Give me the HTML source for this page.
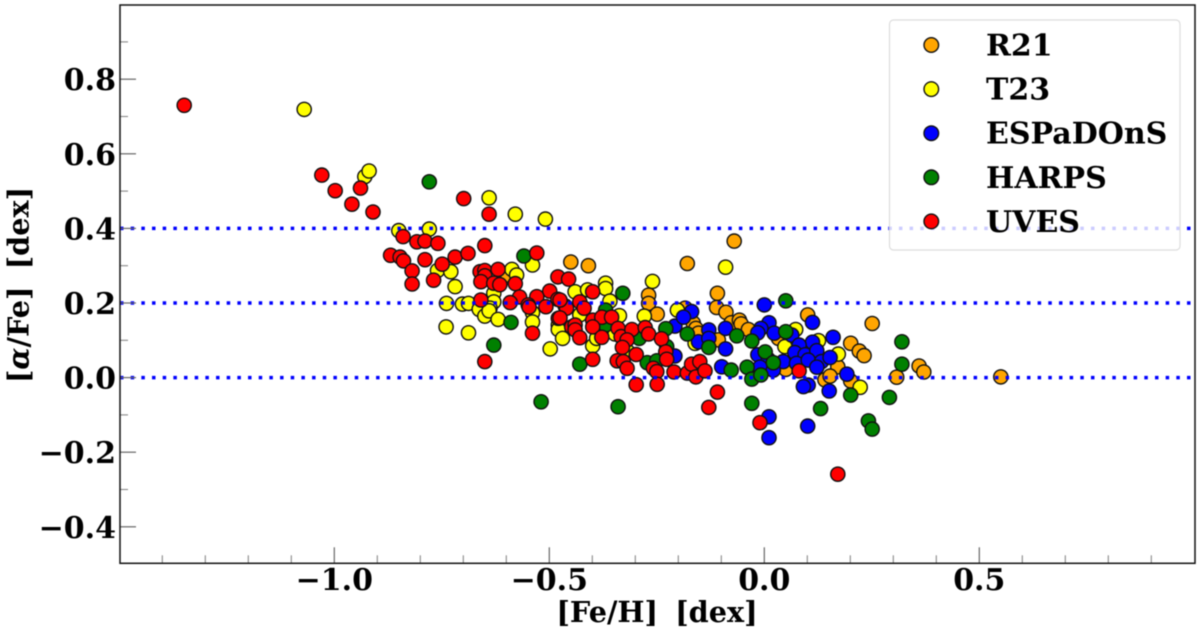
<!DOCTYPE html>
<html>
<head>
<meta charset="utf-8">
<title>[alpha/Fe] vs [Fe/H]</title>
<style>
html,body{margin:0;padding:0;background:#fff;}
svg{display:block;filter:blur(0.45px);}
text{font-family:"DejaVu Serif","Liberation Serif",serif;font-weight:bold;fill:#000;}
</style>
</head>
<body>
<svg id="chart" width="1200" height="632" viewBox="0 0 1200 632" xmlns="http://www.w3.org/2000/svg"></svg>
<script>
const xTicks = [-1.0, -0.5, 0.0, 0.5];
const xTickLabels = ["\u22121.0", "\u22120.5", "0.0", "0.5"];
const xMinorTicks = [-1.4,-1.3,-1.2,-1.1,-0.9,-0.8,-0.7,-0.6,-0.4,-0.3,-0.2,-0.1,0.1,0.2,0.3,0.4,0.6,0.7,0.8,0.9];
const yTicks = [-0.4, -0.2, 0.0, 0.2, 0.4, 0.6, 0.8];
const yTickLabels = ["\u22120.4", "\u22120.2", "0.0", "0.2", "0.4", "0.6", "0.8"];
const yMinorTicks = [-0.3,-0.1,0.1,0.3,0.5,0.7,0.9];
const refLevels = [0.0, 0.2, 0.4];

const r21X = [-0.070,-0.179,-0.450,-0.409,-0.597,-0.269,-0.269,-0.249,-0.109,-0.111,-0.089,-0.077,-0.058,-0.054,-0.037,-0.184,-0.165,-0.159,-0.153,-0.107,0.101,0.251,0.201,0.221,0.232,0.171,0.033,0.052,0.050,0.141,0.153,0.201,0.308,0.360,0.371,0.550];
const r21Y = [0.366,0.306,0.310,0.300,0.275,0.221,0.199,0.170,0.226,0.188,0.175,0.147,0.154,0.144,0.129,0.186,0.146,0.132,0.119,0.101,0.168,0.145,0.092,0.071,0.059,0.029,0.105,0.029,0.022,-0.006,0.004,-0.009,0.001,0.031,0.015,0.002];

const t23X = [-1.070,-0.929,-0.919,-0.850,-0.779,-0.640,-0.579,-0.509,-0.539,-0.760,-0.729,-0.719,-0.587,-0.576,-0.739,-0.702,-0.688,-0.629,-0.629,-0.638,-0.740,-0.688,-0.663,-0.650,-0.640,-0.619,-0.539,-0.539,-0.498,-0.479,-0.479,-0.469,-0.440,-0.411,-0.369,-0.369,-0.359,-0.337,-0.429,-0.399,-0.390,-0.347,-0.260,-0.279,-0.202,-0.161,-0.090,-0.317,0.073,0.048,0.126,0.172,0.223];
const t23Y = [0.719,0.539,0.554,0.394,0.398,0.482,0.438,0.425,0.302,0.287,0.284,0.244,0.290,0.275,0.199,0.197,0.199,0.226,0.203,0.186,0.136,0.120,0.183,0.165,0.179,0.156,0.174,0.149,0.077,0.141,0.129,0.105,0.230,0.235,0.253,0.239,0.205,0.166,0.168,0.085,0.105,0.117,0.258,0.165,0.181,0.092,0.296,0.069,0.129,0.083,0.099,0.063,-0.026];

const espadonsX = [-0.208,-0.169,-0.188,-0.208,-0.153,-0.129,-0.129,-0.090,-0.090,-0.099,0.000,0.112,0.011,-0.008,-0.015,0.023,0.064,0.160,0.112,0.081,0.071,0.095,0.122,-0.015,0.009,0.044,0.075,0.102,0.133,0.153,0.122,-0.010,0.021,0.192,0.102,0.091,0.151,0.011,0.011,0.101];
const espadonsY = [0.138,0.177,0.162,0.058,0.096,0.128,0.105,0.132,0.077,0.029,0.195,0.148,0.147,0.132,0.120,0.119,0.114,0.108,0.095,0.087,0.067,0.061,0.072,0.061,0.049,0.043,0.038,0.047,0.043,0.054,0.028,0.028,0.020,0.009,-0.020,-0.024,-0.036,-0.105,-0.161,-0.130];

const harpsX = [-0.779,-0.559,-0.589,-0.629,-0.519,-0.429,-0.340,-0.329,-0.369,-0.369,-0.291,-0.272,-0.250,-0.229,-0.179,-0.227,-0.129,-0.077,-0.064,0.050,-0.029,0.050,-0.040,-0.029,-0.008,0.002,0.021,-0.029,0.131,0.201,0.291,0.242,0.251,0.320,0.320];
const harpsY = [0.525,0.326,0.148,0.087,-0.065,0.036,-0.078,0.226,0.181,0.141,0.105,0.040,0.045,0.131,0.117,0.083,0.081,0.020,0.112,0.206,0.098,0.123,0.028,-0.004,0.007,0.069,0.040,-0.069,-0.083,-0.047,-0.053,-0.116,-0.138,0.096,0.036];

const uvesX = [-1.349,-1.029,-0.998,-0.959,-0.939,-0.910,-0.840,-0.808,-0.789,-0.759,-0.699,-0.640,-0.650,-0.529,-0.869,-0.847,-0.839,-0.789,-0.719,-0.689,-0.749,-0.819,-0.819,-0.769,-0.661,-0.650,-0.619,-0.650,-0.659,-0.629,-0.615,-0.579,-0.480,-0.455,-0.499,-0.569,-0.659,-0.529,-0.480,-0.591,-0.549,-0.547,-0.508,-0.463,-0.460,-0.479,-0.539,-0.650,-0.448,-0.399,-0.475,-0.429,-0.419,-0.475,-0.440,-0.440,-0.429,-0.399,-0.378,-0.355,-0.399,-0.378,-0.340,-0.333,-0.308,-0.319,-0.277,-0.269,-0.239,-0.330,-0.298,-0.399,-0.342,-0.328,-0.319,-0.229,-0.227,-0.258,-0.250,-0.210,-0.179,-0.169,-0.159,-0.150,-0.138,-0.298,-0.249,-0.109,-0.129,-0.010,0.081,0.171];
const uvesY = [0.730,0.543,0.501,0.465,0.508,0.444,0.378,0.364,0.366,0.360,0.480,0.438,0.354,0.334,0.328,0.323,0.313,0.316,0.323,0.333,0.304,0.286,0.251,0.261,0.284,0.287,0.290,0.273,0.257,0.253,0.249,0.252,0.270,0.264,0.232,0.216,0.208,0.217,0.210,0.201,0.195,0.189,0.190,0.192,0.186,0.159,0.119,0.043,0.136,0.230,0.208,0.203,0.186,0.160,0.141,0.128,0.107,0.154,0.162,0.162,0.136,0.108,0.132,0.110,0.129,0.101,0.134,0.117,0.104,0.081,0.062,0.049,0.045,0.043,0.025,0.069,0.049,0.025,0.016,0.015,0.012,0.036,0.002,0.043,0.018,-0.019,-0.018,-0.039,-0.080,-0.121,0.018,-0.259];

const seriesNames = ["R21", "T23", "ESPaDOnS", "HARPS", "UVES"];
const seriesColors = ["orange", "yellow", "blue", "green", "red"];
const seriesX = [r21X, t23X, espadonsX, harpsX, uvesX];
const seriesY = [r21Y, t23Y, espadonsY, harpsY, uvesY];

const NS = "http://www.w3.org/2000/svg";
const svg = document.getElementById("chart");
const plotLeft = 120, plotRight = 1195, plotTop = 5, plotBottom = 563.3;
function xScale(v) { return 764.3 + v * 430; }
function yScale(v) { return 377.6 - v * 373; }
function make(tag, attrs, parent) {
  const el = document.createElementNS(NS, tag);
  for (const k in attrs) el.setAttribute(k, attrs[k]);
  (parent || svg).appendChild(el);
  return el;
}

// plotted markers
const marksGroup = make("g", {});


seriesNames.forEach(function (name, s) {
  const g = make("g", {}, marksGroup);
  
  
  seriesX[s].forEach(function (xv, i) {
    const c = make("circle", {
      cx: xScale(xv).toFixed(1), cy: yScale(seriesY[s][i]).toFixed(1), r: 7.1,
      fill: seriesColors[s], stroke: "#111", "stroke-width": 1.4
    }, g);
    
    
  });
});

// horizontal reference lines
refLevels.forEach(function (lv) {
  const l = make("line", {
    x1: plotLeft, x2: plotRight, y1: yScale(lv), y2: yScale(lv),
    stroke: "#0000ff", "stroke-width": 3.5, "stroke-dasharray": "3.5 7.17"
  });
  
  
});

// ticks
xTicks.forEach(function (v, i) {
  const t = make("line", { x1: xScale(v), x2: xScale(v), y1: plotBottom, y2: plotBottom - 16, stroke: "#666", "stroke-width": 1.2 });
  
  
  const lb = make("text", { x: xScale(v), y: 590, "text-anchor": "middle", "font-size": 30 });
  lb.textContent = xTickLabels[i];
  
  
});
xMinorTicks.forEach(function (v) {
  const t = make("line", { x1: xScale(v), x2: xScale(v), y1: plotBottom, y2: plotBottom - 8, stroke: "#888", "stroke-width": 1.1 });
  
  
});
yTicks.forEach(function (v, i) {
  const t = make("line", { x1: plotLeft, x2: plotLeft + 16, y1: yScale(v), y2: yScale(v), stroke: "#666", "stroke-width": 1.2 });
  
  
  const lb = make("text", { x: 116, y: yScale(v) + 11, "text-anchor": "end", "font-size": 30 });
  lb.textContent = yTickLabels[i];
  
  
});
yMinorTicks.forEach(function (v) {
  const t = make("line", { x1: plotLeft, x2: plotLeft + 8, y1: yScale(v), y2: yScale(v), stroke: "#888", "stroke-width": 1.1 });
  
  
});

// plot frame
const frame = make("rect", {
  x: plotLeft, y: plotTop, width: plotRight - plotLeft, height: plotBottom - plotTop,
  fill: "none", stroke: "#111", "stroke-width": 1.5
});



// axis titles
const xTitle = make("text", { x: 657, y: 622, "text-anchor": "middle", "font-size": 28.7, "word-spacing": 7 });
xTitle.textContent = "[Fe/H] [dex]";



const yTitle = make("text", { x: 0, y: 0, "text-anchor": "middle", "font-size": 28.7, "word-spacing": 7, transform: "translate(28.5 285) rotate(-90)" });


yTitle.appendChild(document.createTextNode("["));
const alpha = make("tspan", { "font-style": "italic" }, yTitle);
alpha.textContent = "\u03b1";
yTitle.appendChild(document.createTextNode("/Fe] [dex]"));

// legend
const legend = make("g", {});


const legendBox = make("rect", {
  x: 889.5, y: 20, width: 290.5, height: 230, rx: 4, ry: 4,
  fill: "#fff", "fill-opacity": 0.8, stroke: "#ddd", "stroke-width": 1.2
}, legend);


seriesNames.forEach(function (name, s) {
  const rowY = 45 + s * 44.1;
  const g = make("g", {}, legend);
  
  
  const c = make("circle", { cx: 931.3, cy: rowY, r: 7.3, fill: seriesColors[s], stroke: "#111", "stroke-width": 1.4 }, g);
  
  
  const tx = make("text", { x: 986, y: rowY + 10.5, "font-size": 30 }, g);
  tx.textContent = name;
  
  
});
</script>
</body>
</html>
